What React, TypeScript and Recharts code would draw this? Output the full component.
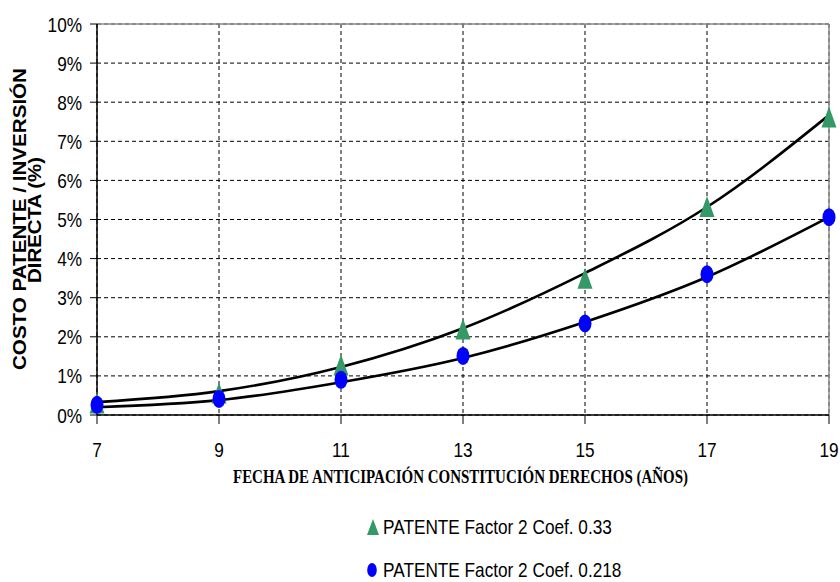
import { ComposedChart, Line, XAxis, YAxis, CartesianGrid, ReferenceLine, Legend } from 'recharts'

const years = [7, 9, 11, 13, 15, 17, 19]
const coef033 = [0.31, 0.56, 1.28, 2.2, 3.5, 5.33, 7.62]
const coef0218 = [0.26, 0.41, 0.9, 1.51, 2.34, 3.6, 5.06]
const trend033 = [0.33, 0.61, 1.23, 2.22, 3.63, 5.32, 7.67]
const trend0218 = [0.2, 0.38, 0.84, 1.46, 2.38, 3.53, 5.06]
const xTicks = [7, 9, 11, 13, 15, 17, 19]
const yTicks = [0, 1, 2, 3, 4, 5, 6, 7, 8, 9, 10]

const seriesNames = ['PATENTE Factor 2 Coef. 0.33', 'PATENTE Factor 2 Coef. 0.218']
const xTitle = 'FECHA DE ANTICIPACIÓN CONSTITUCIÓN DERECHOS (AÑOS)'
const yTitle = ['COSTO PATENTE / INVERSIÓN', 'DIRECTA (%)']

const rows = years.map((year, i) => ({
  year,
  tri: coef033[i],
  dot: coef0218[i],
  fitTri: trend033[i],
  fitDot: trend0218[i],
}))

const GREEN = '#339966'
const BLUE = '#0000ff'
const SANS = "'Liberation Sans', Arial, sans-serif"
const SQUEEZE = 0.82

function TriangleMark({ cx, cy, index }: any) {
  if (cx == null || cy == null) return null
  return <path key={`t${index}`} d={`M${cx},${cy - 10.5} L${cx + 7.5},${cy + 10.5} L${cx - 7.5},${cy + 10.5} Z`} fill={GREEN} />
}

function EllipseMark({ cx, cy, index }: any) {
  if (cx == null || cy == null) return null
  return <ellipse key={`e${index}`} cx={cx} cy={cy} rx={6.5} ry={9} fill={BLUE} />
}

// narrow text: regular sans squeezed sideways, as Arial Narrow is not installed
function XTick({ x, y, payload }: any) {
  return (
    <text transform={`translate(${x},${y}) scale(${SQUEEZE},1)`} textAnchor="middle" dy={15} fontFamily={SANS} fontSize={21} fill="#000">
      {payload.value}
    </text>
  )
}

function YTick({ x, y, payload }: any) {
  return (
    <text transform={`translate(${x},${y}) scale(${SQUEEZE},1)`} textAnchor="end" dy={7.5} fontFamily={SANS} fontSize={21} fill="#000">
      {`${payload.value}%`}
    </text>
  )
}

function YTitle() {
  return (
    <g fontFamily={SANS} fontWeight="bold" fontSize={18} fill="#000">
      <text x={26} y={219} transform="rotate(-90 26 219)" textAnchor="middle" textLength={302} lengthAdjust="spacingAndGlyphs">{yTitle[0]}</text>
      <text x={41} y={220} transform="rotate(-90 41 220)" textAnchor="middle" textLength={126} lengthAdjust="spacingAndGlyphs">{yTitle[1]}</text>
    </g>
  )
}

function XTitle() {
  return (
    <text x={233} y={483} fontFamily="'Liberation Serif', 'Times New Roman', serif" fontWeight="bold" fontSize={18.5} fill="#000" textLength={455} lengthAdjust="spacingAndGlyphs">{xTitle}</text>
  )
}

function LegendRow({ icon, label, top }: any) {
  return (
    <div style={{ position: 'absolute', left: 0, top, height: 24, width: 320 }}>
      {icon}
      <svg style={{ position: 'absolute', left: 16, top: 0 }} width={300} height={24}>
        <text x={0} y={12} dy={7.5} transform={`scale(${SQUEEZE},1)`} fontFamily={SANS} fontSize={21} fill="#000">{label}</text>
      </svg>
    </div>
  )
}

function LegendBox() {
  return (
    <div style={{ position: 'relative', width: 320, height: 70 }}>
      <LegendRow
        top={0}
        label={seriesNames[0]}
        icon={<svg style={{ position: 'absolute', left: 0, top: 4 }} width={12} height={16}><path d="M6,0 L12,16 L0,16 Z" fill={GREEN} /></svg>}
      />
      <LegendRow
        top={43}
        label={seriesNames[1]}
        icon={<svg style={{ position: 'absolute', left: 0, top: 5 }} width={10} height={14}><ellipse cx={5} cy={7} rx={4.8} ry={7} fill={BLUE} /></svg>}
      />
    </div>
  )
}

export default function App() {
  return (
    <div style={{ position: 'absolute', left: 0, top: 0, background: '#fff' }}>
      <ComposedChart width={840} height={582} data={rows} margin={{ top: 24, right: 11, left: 0, bottom: 127 }}>
        <CartesianGrid stroke="#000" strokeDasharray="4 3" strokeWidth={1} />
        <XAxis
          dataKey="year"
          type="number"
          domain={[7, 19]}
          ticks={xTicks}
          height={40}
          axisLine={{ stroke: '#000', strokeWidth: 1.5 }}
          tickLine={{ stroke: '#000', strokeWidth: 1 }}
          tickSize={9}
          tickMargin={18}
          tick={<XTick />}
          label={<XTitle />}
        />
        <YAxis
          type="number"
          domain={[0, 10]}
          ticks={yTicks}
          width={97}
          axisLine={{ stroke: '#000', strokeWidth: 1.5 }}
          tickLine={{ stroke: '#000', strokeWidth: 1 }}
          tickSize={7}
          tickMargin={8}
          tick={<YTick />}
          label={<YTitle />}
        />
        <ReferenceLine y={10} stroke="#8c8c8c" strokeWidth={1.5} />
        <ReferenceLine x={19} stroke="#8c8c8c" strokeWidth={1.5} />
        <Line dataKey="tri" name={seriesNames[0]} stroke="none" dot={TriangleMark} activeDot={false} isAnimationActive={false} legendType="none" />
        <Line dataKey="dot" name={seriesNames[1]} stroke="none" dot={EllipseMark} activeDot={false} isAnimationActive={false} legendType="none" />
        <Line dataKey="fitTri" type="monotone" stroke="#000" strokeWidth={2.6} dot={false} activeDot={false} isAnimationActive={false} legendType="none" />
        <Line dataKey="fitDot" type="monotone" stroke="#000" strokeWidth={2.6} dot={false} activeDot={false} isAnimationActive={false} legendType="none" />
        <Legend layout="vertical" align="center" verticalAlign="middle" content={<LegendBox />} wrapperStyle={{ left: 367, top: 515, width: 320 }} />
      </ComposedChart>
    </div>
  )
}
